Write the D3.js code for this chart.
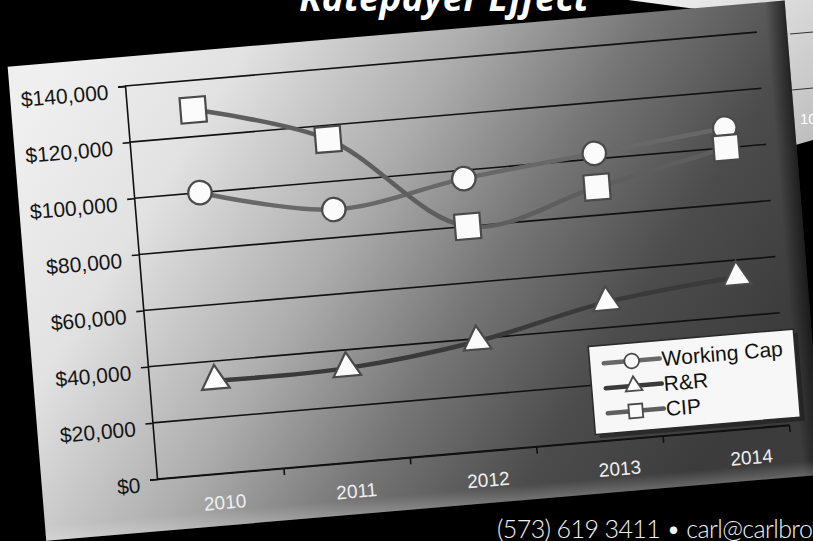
<!DOCTYPE html>
<html><head><meta charset="utf-8">
<script src="https://cdn.jsdelivr.net/npm/d3@7/dist/d3.min.js"></script>
<style>html,body{margin:0;padding:0;background:#000;overflow:hidden}</style>
</head><body>
<script>
// ---- data ----
const years = ["2010","2011","2012","2013","2014"];
const workingCap = [100000, 90000, 97000, 102000, 107000];
const rnr = [33000, 33500, 39000, 49000, 54000];
const cip = [129500, 115000, 80000, 90000, 100000];
const yTicks = [0,20000,40000,60000,80000,100000,120000,140000];
const seriesNames = ["Working Cap","R&R","CIP"];
const titleText = "Ratepayer Effect";
const footerText = "(573) 619 3411 \u2022 carl@carlbrown.com";

const Wd = 813, Ht = 541;
const svg = d3.select("body").append("svg").attr("width",Wd).attr("height",Ht);
const defs = svg.append("defs");

const g1 = defs.append("linearGradient").attr("id","cardGrad")
  .attr("x1",0).attr("y1",0.15).attr("x2",1).attr("y2",0.6);
[[0,"#efefef"],[0.2,"#e2e2e2"],[0.44,"#adadad"],[0.63,"#767676"],[0.82,"#4c4c4c"],[1,"#3c3c3c"]]
  .forEach(s=>g1.append("stop").attr("offset",s[0]).attr("stop-color",s[1]));
const g2 = defs.append("linearGradient").attr("id","edgeGrad").attr("x1",0).attr("x2",1).attr("y1",0).attr("y2",0);
g2.append("stop").attr("offset",0).attr("stop-color","#000").attr("stop-opacity",0);
g2.append("stop").attr("offset",1).attr("stop-color","#000").attr("stop-opacity",0.55);
const g3 = defs.append("linearGradient").attr("id","backGrad").attr("x1",0).attr("x2",1).attr("y1",0).attr("y2",1);
g3.append("stop").attr("offset",0).attr("stop-color","#f2f2f2");
g3.append("stop").attr("offset",1).attr("stop-color","#bdbdbd");
const g4 = defs.append("linearGradient").attr("id","botGrad").attr("x1",0).attr("x2",0).attr("y1",0).attr("y2",1);
g4.append("stop").attr("offset",0).attr("stop-color","#fff").attr("stop-opacity",0);
g4.append("stop").attr("offset",1).attr("stop-color","#fff").attr("stop-opacity",0.22);

svg.append("rect").attr("width",Wd).attr("height",Ht).attr("fill","#000");

// back card (top right)
svg.append("polygon").attr("points","628,0 813,0 813,140 792,146 780,20")
  .attr("fill","url(#backGrad)");
svg.append("line").attr("x1",790).attr("y1",34).attr("x2",813).attr("y2",32).attr("stroke","#333").attr("stroke-width",1.2);
svg.append("line").attr("x1",792).attr("y1",90).attr("x2",813).attr("y2",88).attr("stroke","#333").attr("stroke-width",1.2);
svg.append("text").attr("x",800).attr("y",124).attr("fill","#fff").attr("font-family","Liberation Sans")
  .attr("font-size",15).text("10");

// title (mostly cut off at top)
svg.append("text").attr("x",444).attr("y",11).attr("text-anchor","middle")
  .attr("fill","#fff").attr("font-family","Open Sans, Liberation Sans").attr("font-weight","bold")
  .attr("font-style","italic").attr("font-size",37).text(titleText);

// ---- front card with chart (affine transform approximates the photo tilt) ----
const card = svg.append("g").attr("transform","matrix(1,-0.0853,0.0814,1,125,86)");
card.append("rect").attr("x",-115).attr("y",-29).attr("width",777).attr("height",474).attr("fill","url(#cardGrad)");
card.append("rect").attr("x",642).attr("y",-29).attr("width",20).attr("height",474).attr("fill","url(#edgeGrad)");
card.append("rect").attr("x",-115).attr("y",430).attr("width",777).attr("height",15).attr("fill","url(#botGrad)");

const W = 632, H = 393;
const y = d3.scaleLinear().domain([0,140000]).range([H,0]);
const xTick = d3.scaleLinear().domain([0,years.length]).range([0,W]);
const xBand = d3.scaleBand().domain(years).range([0,658]);
const cx = yr => xBand(yr) + xBand.bandwidth()/2;

// gridlines
card.append("g").selectAll("line").data(yTicks).join("line")
  .attr("x1",0).attr("x2",W).attr("y1",d=>y(d)).attr("y2",d=>y(d))
  .attr("stroke","#111").attr("stroke-width",1.6);

// y axis
const yAxis = card.append("g").call(d3.axisLeft(y).tickValues(yTicks).tickFormat(d3.format("$,")).tickSize(7).tickPadding(10));
yAxis.select(".domain").attr("stroke","#111").attr("stroke-width",1.6);
yAxis.selectAll(".tick line").attr("stroke","#111").attr("stroke-width",1.6);
yAxis.selectAll("text").attr("font-family","Liberation Sans, Arial").attr("font-size",21)
  .attr("fill","#151515").attr("dy","0.55em");

// x axis ticks
const xAxisT = card.append("g").attr("transform",`translate(0,${H})`)
  .call(d3.axisBottom(xTick).tickValues([1,2,3,4,5]).tickFormat("").tickSize(7).tickSizeOuter(0));
xAxisT.select(".domain").attr("stroke","#111").attr("stroke-width",1.6);
xAxisT.selectAll(".tick line").attr("stroke","#111").attr("stroke-width",1.6);
// x labels
const xAxisL = card.append("g").attr("transform",`translate(0,${H})`)
  .call(d3.axisBottom(xBand).tickSize(0).tickPadding(22));
xAxisL.select(".domain").remove();
xAxisL.selectAll("text").attr("font-family","Liberation Sans, Arial").attr("font-size",19).attr("fill","#eeeeee");

// series
const series = [
  {name:seriesNames[0], values:workingCap, color:"#686868", sym:d3.symbolCircle, size:430, lsize:170},
  {name:seriesNames[1], values:rnr, color:"#3a3a3a", sym:d3.symbolTriangle, size:330, lsize:120},
  {name:seriesNames[2], values:cip, color:"#5e5e5e", sym:d3.symbolSquare, size:640, lsize:190}
];
const line = d3.line().x((d,i)=>cx(years[i])).y(d=>y(d)).curve(d3.curveCatmullRom.alpha(0.5));
const order = [series[1], series[0], series[2]];
order.forEach(s=>{
  card.append("path").attr("d",line(s.values)).attr("fill","none")
    .attr("stroke",s.color).attr("stroke-width",4.5).attr("stroke-linecap","round");
});
order.forEach(s=>{
  card.append("g").selectAll("path").data(s.values).join("path")
    .attr("transform",(d,i)=>`translate(${cx(years[i])},${y(d)})`)
    .attr("d",d3.symbol().type(s.sym).size(s.size)())
    .attr("fill","#fbfbfb").attr("stroke","#4a4a4a").attr("stroke-width",2.2);
});

// legend
const lg = card.append("g").attr("transform","translate(439,298)");
lg.append("rect").attr("x",4).attr("y",4).attr("width",205).attr("height",88).attr("fill","#1a1a1a").attr("opacity",0.6);
lg.append("rect").attr("width",205).attr("height",88).attr("fill","#f7f7f7").attr("stroke","#2a2a2a").attr("stroke-width",1.5);
series.forEach((s,i)=>{
  const ry = 18 + i*25;
  lg.append("line").attr("x1",14).attr("x2",70).attr("y1",ry).attr("y2",ry)
    .attr("stroke",s.color).attr("stroke-width",4.5).attr("stroke-linecap","round");
  lg.append("path").attr("transform",`translate(42,${ry})`).attr("d",d3.symbol().type(s.sym).size(s.lsize)())
    .attr("fill","#fbfbfb").attr("stroke","#4a4a4a").attr("stroke-width",1.8);
  lg.append("text").attr("x",72).attr("y",ry).attr("dy","0.36em")
    .attr("font-family","Liberation Sans, Arial").attr("font-size",21).attr("fill","#111").text(s.name);
});

// footer
svg.append("text").attr("x",497).attr("y",538).attr("fill","#f2f2f2")
  .attr("font-family","Lato, Open Sans").attr("font-weight",300).attr("font-size",25)
  .attr("letter-spacing",-0.6).text(footerText);
</script>
</body></html>
